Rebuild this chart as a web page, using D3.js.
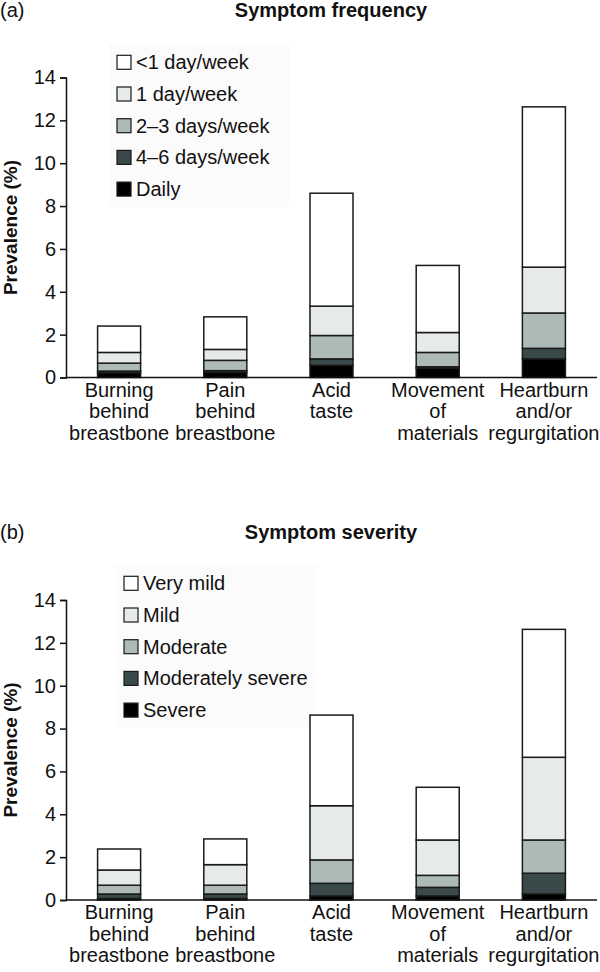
<!DOCTYPE html>
<html>
<head>
<meta charset="utf-8">
<script src="https://cdn.jsdelivr.net/npm/d3@7"></script>
<style>
  html, body { margin: 0; padding: 0; background: #fff; }
  svg { display: block; }
  text { font-family: "Liberation Sans", Arial, Helvetica, sans-serif; fill: #111; }
</style>
</head>
<body>
<svg id="chart" width="600" height="972"></svg>
<script>
// ---------- data ----------
const categories = [
  ["Burning", "behind", "breastbone"],
  ["Pain", "behind", "breastbone"],
  ["Acid", "taste"],
  ["Movement", "of", "materials"],
  ["Heartburn", "and/or", "regurgitation"]
];
const yTicks = [0, 2, 4, 6, 8, 10, 12, 14];

// Panel (a) – symptom frequency (stacked bottom → top)
const freqLabels = ["Daily", "4\u20136 days/week", "2\u20133 days/week", "1 day/week", "<1 day/week"];
const freqDaily   = [0.22, 0.24, 0.57, 0.43, 0.87];
const freq4to6    = [0.08, 0.08, 0.30, 0.07, 0.49];
const freq2to3    = [0.37, 0.48, 1.09, 0.67, 1.65];
const freq1day    = [0.50, 0.51, 1.37, 0.93, 2.14];
const freqLess1   = [1.23, 1.52, 5.27, 3.13, 7.48];

// Panel (b) – symptom severity (stacked bottom → top)
const sevLabels = ["Severe", "Moderately severe", "Moderate", "Mild", "Very mild"];
const sevSevere     = [0.07, 0.07, 0.19, 0.19, 0.28];
const sevModSevere  = [0.21, 0.21, 0.59, 0.40, 0.97];
const sevModerate   = [0.41, 0.41, 1.09, 0.56, 1.55];
const sevMild       = [0.71, 0.96, 2.53, 1.65, 3.86];
const sevVeryMild   = [0.98, 1.20, 4.23, 2.46, 5.97];

const fills = ["#000000", "#3a4a4b", "#adbab8", "#e6ebea", "#ffffff"];

// ---------- drawing ----------
const svg = d3.select("#chart");

function drawPanel(cfg) {
  const g = svg.append("g");
  const x = d3.scaleBand()
    .domain(d3.range(categories.length))
    .range([66, 597])
    .paddingInner(0.595)
    .paddingOuter(0.2975);
  const y = d3.scaleLinear().domain([0, 14]).range([cfg.y0, cfg.y0 - 300]);

  // panel letter & title
  g.append("text").attr("x", 0).attr("y", cfg.titleY)
    .style("font-size", "20px").text(cfg.letter);
  g.append("text").attr("x", 331).attr("y", cfg.titleY)
    .attr("text-anchor", "middle")
    .style("font-size", "20px").style("font-weight", "bold")
    .text(cfg.title);

  // legend background (very faint)
  g.append("rect")
    .attr("x", cfg.legX - 8).attr("y", cfg.legY - 18)
    .attr("width", cfg.legW).attr("height", 5 * 31.7 + 4)
    .attr("fill", "#fbfbfb");

  // stacked bars
  const rows = categories.map((c, i) => {
    const o = { i };
    cfg.series.forEach((s, k) => { o["s" + k] = s[i]; });
    return o;
  });
  const keys = cfg.series.map((s, k) => "s" + k);
  const stacked = d3.stack().keys(keys)(rows);
  stacked.forEach((layer, k) => {
    g.append("g").selectAll("rect").data(layer).join("rect")
      .attr("x", d => x(d.data.i))
      .attr("width", x.bandwidth())
      .attr("y", d => y(d[1]))
      .attr("height", d => y(d[0]) - y(d[1]))
      .attr("fill", fills[k])
      .attr("stroke", "#1a1a1a")
      .attr("stroke-width", 1.5);
  });

  // y axis
  const yAxis = g.append("g").attr("transform", "translate(66,0)")
    .call(d3.axisLeft(y).tickValues(yTicks).tickSize(6).tickPadding(4).tickFormat(d3.format("d")));
  yAxis.select(".domain").attr("stroke", "#111").attr("stroke-width", 1.5);
  yAxis.selectAll(".tick line").attr("stroke", "#111").attr("stroke-width", 1.5);
  yAxis.selectAll(".tick text").style("font-size", "20px")
    .style("font-family", "'Liberation Sans', Arial, sans-serif").attr("fill", "#111");

  // x axis
  const xAxis = g.append("g").attr("transform", `translate(0,${cfg.y0})`)
    .call(d3.axisBottom(x).tickSize(0).tickFormat(""));
  xAxis.select(".domain").attr("stroke", "#111").attr("stroke-width", 1.5)
    .attr("d", "M66,0H597");

  // category labels
  categories.forEach((lines, i) => {
    const t = g.append("text")
      .attr("text-anchor", "middle")
      .attr("x", x(i) + x.bandwidth() / 2)
      .attr("y", cfg.y0 + 19)
      .style("font-size", "20px");
    lines.forEach((ln, j) => {
      t.append("tspan").attr("x", x(i) + x.bandwidth() / 2)
        .attr("dy", j === 0 ? 0 : 21.5).text(ln);
    });
  });

  // y axis title
  g.append("text")
    .attr("transform", `translate(17,${cfg.y0 - 150}) rotate(-90)`)
    .attr("text-anchor", "middle")
    .style("font-size", "19px").style("font-weight", "bold")
    .text("Prevalence (%)");

  // legend (top → bottom: last series first)
  const legItems = cfg.labels.map((l, k) => ({ l, k })).reverse();
  legItems.forEach((it, r) => {
    const cy = cfg.legY + r * 31.7;
    g.append("rect")
      .attr("x", cfg.legX).attr("y", cy - 7)
      .attr("width", 14).attr("height", 14)
      .attr("fill", fills[it.k]).attr("stroke", "#1a1a1a").attr("stroke-width", 1.2);
    g.append("text")
      .attr("x", cfg.legX + 19).attr("y", cy + 7)
      .style("font-size", "20px").text(it.l);
  });
}

drawPanel({
  letter: "(a)", title: "Symptom frequency", titleY: 17,
  y0: 377.5,
  series: [freqDaily, freq4to6, freq2to3, freq1day, freqLess1],
  labels: freqLabels,
  legX: 117, legY: 62.3, legW: 180
});

drawPanel({
  letter: "(b)", title: "Symptom severity", titleY: 539,
  y0: 900,
  series: [sevSevere, sevModSevere, sevModerate, sevMild, sevVeryMild],
  labels: sevLabels,
  legX: 124, legY: 583.3, legW: 200
});
</script>
</body>
</html>
